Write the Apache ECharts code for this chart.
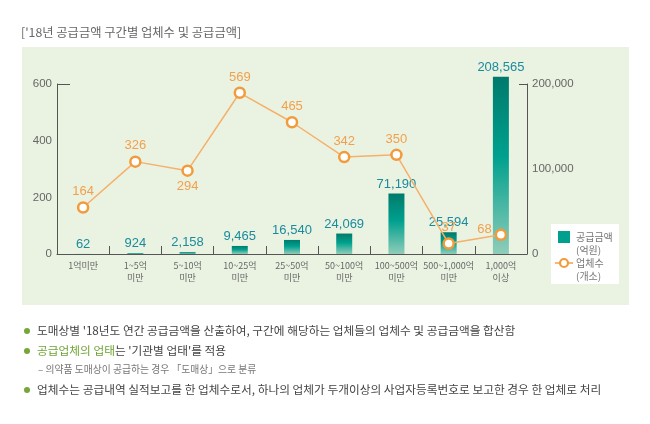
<!DOCTYPE html>
<html>
<head>
<meta charset="utf-8">
<script src="https://cdn.jsdelivr.net/npm/echarts@6/dist/echarts.min.js"></script>
<style>
html,body{margin:0;padding:0;background:#fff;}
#chart{width:650px;height:424px;}
</style>
</head>
<body>
<div id="chart"></div>
<script>
const categories = ['1억미만','1~5억\n미만','5~10억\n미만','10~25억\n미만','25~50억\n미만','50~100억\n미만','100~500억\n미만','500~1,000억\n미만','1,000억\n이상'];
const supplyAmount = [62, 924, 2158, 9465, 16540, 24069, 71190, 25594, 208565];
const companyCount = [164, 326, 294, 569, 465, 342, 350, 37, 68];
const leftTicks = [0, 200, 400, 600];
const rightTicks = [0, 100000, 200000];

// label placement (style only)
const linePos = ['top','top','bottom','top','top','top','top','top','left'];

const NUM = "'Liberation Sans',Arial,sans-serif";
const KR = "'Noto Sans CJK KR','Noto Sans',sans-serif";

const chart = echarts.init(document.getElementById('chart'), null, {renderer:'canvas'});

const lineData = companyCount.map((v,i)=>{
  const d = {value:v, label:{position:linePos[i]}};
  if (linePos[i]==='left') d.label.offset=[0,-5];
  return d;
});

const barGrad = new echarts.graphic.LinearGradient(0,0,0,1,[
  {offset:0,color:'#007a6c'},
  {offset:0.45,color:'#00a08e'},
  {offset:1,color:'#8fcdb9'}
]);

const option = {
  animation:false,
  backgroundColor:'#ffffff',
  grid:{left:57,right:123,top:84,bottom:170,containLabel:false},
  xAxis:{
    type:'category',
    data:categories,
    boundaryGap:true,
    axisLine:{show:true,lineStyle:{color:'#555',width:1}},
    axisTick:{show:true,inside:true,length:8,lineStyle:{color:'#555'}},
    axisLabel:{color:'#666',fontSize:9,fontFamily:KR,lineHeight:12,margin:6,interval:0}
  },
  yAxis:[
    {type:'value',min:leftTicks[0],max:leftTicks[leftTicks.length-1],interval:200,position:'left',
     axisLine:{show:true,lineStyle:{color:'#555'}},axisTick:{show:false},splitLine:{show:false},
     axisLabel:{color:'#666',fontSize:11.5,fontFamily:NUM,margin:5}},
    {type:'value',min:rightTicks[0],max:rightTicks[rightTicks.length-1],interval:100000,position:'right',
     axisLine:{show:true,lineStyle:{color:'#555'}},axisTick:{show:false},splitLine:{show:false},
     axisLabel:{color:'#666',fontSize:11.5,fontFamily:NUM,margin:5,formatter:v=>v.toLocaleString('en-US')}},
    {type:'value',min:0,max:600,interval:600,position:'left',
     axisLine:{show:false},axisTick:{show:true,inside:true,length:13,lineStyle:{color:'#555'}},
     axisLabel:{show:false},splitLine:{show:false}},
    {type:'value',min:0,max:200000,interval:200000,position:'right',
     axisLine:{show:false},axisTick:{show:true,inside:true,length:8,lineStyle:{color:'#555'}},
     axisLabel:{show:false},splitLine:{show:false}}
  ],
  series:[
    {
      name:'공급금액',type:'bar',yAxisIndex:1,data:supplyAmount,barWidth:16,clip:false,
      itemStyle:{color:barGrad},
      label:{show:true,position:'top',distance:3,color:'#1b8b9c',fontSize:13,fontFamily:NUM,
        formatter:p=>p.value.toLocaleString('en-US')},
      z:2
    },
    {
      name:'업체수',type:'line',yAxisIndex:0,data:lineData,
      symbol:'circle',symbolSize:10,
      itemStyle:{color:'#ffffff',borderColor:'#f39a3a',borderWidth:2.5},
      lineStyle:{color:'#f5b06a',width:1.5},
      label:{show:true,distance:3,color:'#f2a04c',fontSize:13,fontFamily:NUM},
      z:3
    }
  ],
  graphic:[
    {type:'rect',z:-10,silent:true,shape:{x:22,y:47,width:607,height:258},style:{fill:'#eaf3e2'}},
    {type:'text',z:5,x:21,y:32,style:{text:"['18년 공급금액 구간별 업체수 및 공급금액]",fill:'#666',font:"12.3px "+KR,verticalAlign:'middle'}},
    // legend
    {type:'rect',z:5,shape:{x:551,y:224,width:68,height:60},style:{fill:'#ffffff'}},
    {type:'rect',z:6,shape:{x:558,y:231,width:12,height:12},style:{fill:'#00a08e'}},
    {type:'text',z:6,x:576,y:237,style:{text:'공급금액',fill:'#777',font:'10px '+KR,verticalAlign:'middle'}},
    {type:'text',z:6,x:576,y:250,style:{text:'(억원)',fill:'#777',font:'10px '+KR,verticalAlign:'middle'}},
    {type:'line',z:6,shape:{x1:555,y1:263,x2:573,y2:263},style:{stroke:'#f5a04a',lineWidth:1.5}},
    {type:'circle',z:7,shape:{cx:564,cy:263,r:4},style:{fill:'#fff',stroke:'#f39a3a',lineWidth:2.2}},
    {type:'text',z:6,x:576,y:263,style:{text:'업체수',fill:'#777',font:'10px '+KR,verticalAlign:'middle'}},
    {type:'text',z:6,x:576,y:276,style:{text:'(개소)',fill:'#777',font:'10px '+KR,verticalAlign:'middle'}},
    // notes
    {type:'circle',z:5,shape:{cx:27,cy:331,r:3},style:{fill:'#76a63a'}},
    {type:'text',z:5,x:37,y:331,style:{text:"도매상별 '18년도 연간 공급금액을 산출하여, 구간에 해당하는 업체들의 업체수 및 공급금액을 합산함",fill:'#444',font:'11.7px '+KR,verticalAlign:'middle'}},
    {type:'circle',z:5,shape:{cx:27,cy:351,r:3},style:{fill:'#76a63a'}},
    {type:'text',z:5,x:37,y:351,style:{text:"{g|공급업체의 업태}{n|는 '기관별 업태'를 적용}",font:'11.7px '+KR,verticalAlign:'middle',
      rich:{g:{fill:'#6fa334',font:'11.7px '+KR},n:{fill:'#444',font:'11.7px '+KR}}}},
    {type:'text',z:5,x:38,y:369,style:{text:"– 의약품 도매상이 공급하는 경우 「도매상」으로 분류",fill:'#777',font:'9.8px '+KR,verticalAlign:'middle'}},
    {type:'circle',z:5,shape:{cx:27,cy:390,r:3},style:{fill:'#76a63a'}},
    {type:'text',z:5,x:37,y:390,style:{text:"업체수는 공급내역 실적보고를 한 업체수로서, 하나의 업체가 두개이상의 사업자등록번호로 보고한 경우 한 업체로 처리",fill:'#444',font:'11.7px '+KR,verticalAlign:'middle'}}
  ]
};
chart.setOption(option);
</script>
</body>
</html>
